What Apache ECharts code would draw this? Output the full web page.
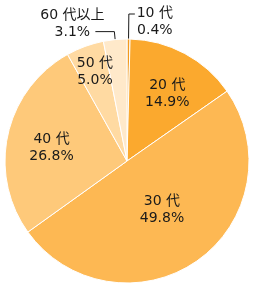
<!DOCTYPE html>
<html>
<head>
<meta charset="utf-8">
<script src="https://cdn.jsdelivr.net/npm/echarts@6/dist/echarts.min.js"></script>
<style>
html,body{margin:0;padding:0;background:#fff;}
#chart{width:253px;height:289px;}
</style>
</head>
<body>
<div id="chart"></div>
<script>
// 年代別の割合
var names = ['10 代', '20 代', '30 代', '40 代', '50 代', '60 代以上'];
var values = [0.4, 14.9, 49.8, 26.8, 5.0, 3.1];
var colors = ['#F39A1E', '#FBA92E', '#FDB853', '#FEC97A', '#FFDAA2', '#FFE9CA'];

// ラベル位置の微調整
var nudge = [[15, 8], [10, -11], [-2, -3], [-13, 1], [-10, -29], [-18, -8]];
var outside = [true, false, false, false, false, true];
var lineLen = [25, 0, 0, 0, 0, 8];
var lineLen2 = [6, 0, 0, 0, 0, 19];
var lineInset = 11;

var myChart = echarts.init(document.getElementById('chart'));

var pieData = [];
for (var i = 0; i < names.length; i++) {
    var item = {
        name: names[i],
        value: values[i],
        itemStyle: {color: colors[i]}
    };
    if (outside[i]) {
        item.label = {position: 'outside'};
        item.labelLine = {show: true, length: lineLen[i], length2: lineLen2[i]};
    } else {
        item.label = {position: 'inside'};
        item.labelLine = {show: false};
    }
    pieData.push(item);
}

var cx = 127, cy = 161;

var option = {
    backgroundColor: '#fff',
    animation: false,
    series: [{
        type: 'pie',
        center: [cx, cy],
        radius: 122,
        startAngle: 90,
        clockwise: true,
        avoidLabelOverlap: false,
        itemStyle: {borderColor: '#fff', borderWidth: 1},
        label: {
            formatter: function (p) {
                return p.name + '\n' + p.value.toFixed(1) + '%';
            },
            color: '#1a1a1a',
            fontSize: 14,
            lineHeight: 17,
            align: 'center',
            fontFamily: 'DejaVu Sans, Noto Sans CJK JP'
        },
        labelLine: {
            lineStyle: {color: '#1a1a1a', width: 1},
            smooth: false
        },
        labelLayout: function (params) {
            var k = params.dataIndex;
            var d = nudge[k];
            var res = {dx: d[0], dy: d[1]};
            var pts = params.labelLinePoints;
            if (outside[k] && pts) {
                // 引き出し線を扇形の内側から始める
                var p0 = pts[0];
                var vx = p0[0] - cx, vy = p0[1] - cy;
                var len = Math.sqrt(vx * vx + vy * vy);
                var start = [p0[0] - vx / len * lineInset, p0[1] - vy / len * lineInset];
                res.labelLinePoints = [start, pts[1], pts[2]];
                res.align = 'center';
            }
            return res;
        },
        data: pieData
    }]
};
myChart.setOption(option);
</script>
</body>
</html>
